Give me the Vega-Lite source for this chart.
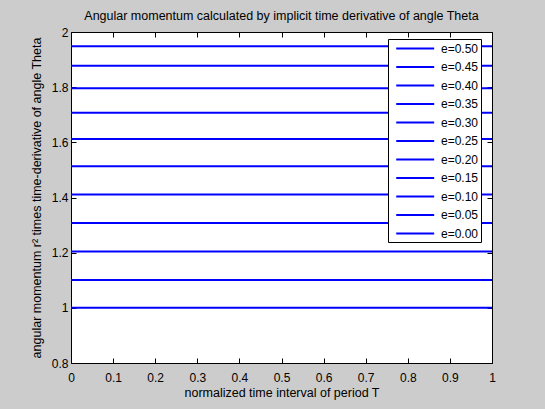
{
  "$schema": "https://vega.github.io/schema/vega-lite/v6.json",
  "width": 421,
  "height": 331,
  "autosize": {"type": "none"},
  "padding": {"left": 71, "top": 32, "right": 53, "bottom": 46},
  "background": "#cccccc",
  "title": {"text": "Angular momentum calculated by implicit time derivative of angle Theta", "font": "Liberation Sans", "fontSize": 12.5, "fontWeight": "normal", "color": "#000000", "anchor": "middle", "offset": 4},
  "config": {
    "view": {"fill": "white", "stroke": "black", "strokeWidth": 1},
    "axis": {"domain": false, "grid": false, "tickSize": -5, "tickColor": "black", "labelFont": "Liberation Sans", "labelFontSize": 12, "labelColor": "#000000", "titleFont": "Liberation Sans", "titleFontSize": 12.5, "titleFontWeight": "normal", "titleColor": "#000000", "labelFlush": false}
  },
  "data": {"values": [
    {"t": 0, "v": 1.9486, "e": "e=0.50"}, {"t": 1, "v": 1.9486, "e": "e=0.50"},
    {"t": 0, "v": 1.8776, "e": "e=0.45"}, {"t": 1, "v": 1.8776, "e": "e=0.45"},
    {"t": 0, "v": 1.7964, "e": "e=0.40"}, {"t": 1, "v": 1.7964, "e": "e=0.40"},
    {"t": 0, "v": 1.7072, "e": "e=0.35"}, {"t": 1, "v": 1.7072, "e": "e=0.35"},
    {"t": 0, "v": 1.6122, "e": "e=0.30"}, {"t": 1, "v": 1.6122, "e": "e=0.30"},
    {"t": 0, "v": 1.5129, "e": "e=0.25"}, {"t": 1, "v": 1.5129, "e": "e=0.25"},
    {"t": 0, "v": 1.4109, "e": "e=0.20"}, {"t": 1, "v": 1.4109, "e": "e=0.20"},
    {"t": 0, "v": 1.3075, "e": "e=0.15"}, {"t": 1, "v": 1.3075, "e": "e=0.15"},
    {"t": 0, "v": 1.2039, "e": "e=0.10"}, {"t": 1, "v": 1.2039, "e": "e=0.10"},
    {"t": 0, "v": 1.1011, "e": "e=0.05"}, {"t": 1, "v": 1.1011, "e": "e=0.05"},
    {"t": 0, "v": 1.0, "e": "e=0.00"}, {"t": 1, "v": 1.0, "e": "e=0.00"}
  ]},
  "layer": [
    {
      "mark": {"type": "line", "strokeWidth": 2},
      "encoding": {
        "x": {"field": "t", "type": "quantitative", "scale": {"domain": [0, 1], "nice": false}, "axis": {"values": [0, 0.1, 0.2, 0.3, 0.4, 0.5, 0.6, 0.7, 0.8, 0.9, 1], "format": "~g", "title": "normalized time interval of period T", "labelPadding": 14, "titlePadding": 3}},
        "y": {"field": "v", "type": "quantitative", "scale": {"domain": [0.8, 2], "nice": false, "zero": false}, "axis": {"values": [0.8, 1, 1.2, 1.4, 1.6, 1.8, 2], "format": "~g", "title": "angular momentum r² times time-derivative of angle Theta", "labelPadding": 8, "titlePadding": 8}},
        "color": {"field": "e", "type": "nominal",
          "scale": {"domain": ["e=0.50", "e=0.45", "e=0.40", "e=0.35", "e=0.30", "e=0.25", "e=0.20", "e=0.15", "e=0.10", "e=0.05", "e=0.00"], "range": ["#0000ff", "#0000ff", "#0000ff", "#0000ff", "#0000ff", "#0000ff", "#0000ff", "#0000ff", "#0000ff", "#0000ff", "#0000ff"]},
          "legend": {"orient": "none", "legendX": 317, "legendY": 7, "title": null, "symbolType": "M-0.2,0H5.8", "symbolStrokeWidth": 2, "symbolSize": 160, "rowPadding": 4.5, "labelFont": "Liberation Sans", "labelFontSize": 12, "labelColor": "#000000", "labelOffset": 36, "fillColor": "white", "strokeColor": "black", "padding": 2}
        }
      }
    },
    {
      "mark": {"type": "line", "opacity": 0},
      "encoding": {
        "x": {"field": "t", "type": "quantitative", "axis": {"orient": "top", "values": [0, 0.1, 0.2, 0.3, 0.4, 0.5, 0.6, 0.7, 0.8, 0.9, 1], "labels": false, "title": null}},
        "y": {"field": "v", "type": "quantitative", "axis": {"orient": "right", "values": [0.8, 1, 1.2, 1.4, 1.6, 1.8, 2], "labels": false, "title": null}},
        "detail": {"field": "e"}
      }
    }
  ],
  "resolve": {"axis": {"x": "independent", "y": "independent"}}
}
